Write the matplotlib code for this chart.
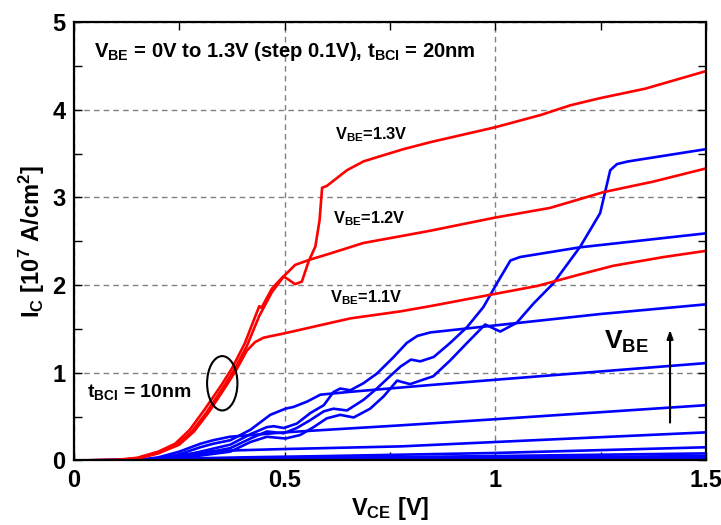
import matplotlib
matplotlib.use("Agg")
import matplotlib.pyplot as plt
from matplotlib.patches import Ellipse
from matplotlib.ticker import MultipleLocator

# ---------------- data ----------------
# t_BCI = 10 nm (red)
red_13_x = [0, 0.1, 0.15, 0.2, 0.24, 0.275, 0.31, 0.35, 0.375, 0.405, 0.435, 0.44, 0.445, 0.47, 0.497,
            0.51, 0.525, 0.541, 0.557, 0.573, 0.583, 0.589, 0.60, 0.624, 0.648, 0.687, 0.727, 0.782,
            0.846, 1.0, 1.108, 1.178, 1.247, 1.356, 1.5]
red_13_y = [0, 0.005, 0.03, 0.1, 0.19, 0.35, 0.58, 0.86, 1.05, 1.33, 1.70, 1.76, 1.74, 1.96, 2.10,
            2.06, 2.01, 2.04, 2.27, 2.44, 2.74, 3.11, 3.13, 3.22, 3.31, 3.41, 3.47, 3.55,
            3.63, 3.80, 3.94, 4.05, 4.13, 4.24, 4.44]
red_12_x = [0, 0.1, 0.15, 0.2, 0.245, 0.28, 0.315, 0.355, 0.38, 0.41, 0.44, 0.47, 0.5, 0.525, 0.56,
            0.608, 0.687, 0.767, 0.846, 1.0, 1.13, 1.257, 1.375, 1.5]
red_12_y = [0, 0.004, 0.025, 0.09, 0.18, 0.33, 0.55, 0.84, 1.03, 1.30, 1.65, 1.92, 2.11, 2.23, 2.29,
            2.36, 2.48, 2.55, 2.62, 2.77, 2.88, 3.06, 3.18, 3.33]
red_11_x = [0, 0.1, 0.15, 0.2, 0.25, 0.285, 0.32, 0.36, 0.385, 0.41, 0.43, 0.45, 0.5, 0.656, 0.775,
            0.846, 1.0, 1.1, 1.2, 1.28, 1.4, 1.5]
red_11_y = [0, 0.004, 0.02, 0.08, 0.18, 0.33, 0.55, 0.84, 1.03, 1.25, 1.35, 1.40, 1.45, 1.62, 1.70,
            1.76, 1.90, 1.99, 2.12, 2.22, 2.32, 2.39]

# t_BCI = 20 nm (blue), V_BE = 0 ... 1.3 V
blue_13_x = [0, 0.15, 0.2, 0.25, 0.3, 0.371, 0.419, 0.458, 0.502, 0.537, 0.569, 0.60, 0.632, 0.664,
             0.703, 0.735, 0.767, 0.798, 0.822, 0.853, 0.893, 0.933, 0.976, 1.012, 1.051, 1.091,
             1.138, 1.202, 1.249, 1.273, 1.289, 1.315, 1.5]
blue_13_y = [0, 0.003, 0.008, 0.025, 0.055, 0.10, 0.21, 0.27, 0.25, 0.29, 0.38, 0.48, 0.52, 0.49,
             0.59, 0.73, 0.91, 0.87, 0.91, 0.96, 1.14, 1.34, 1.55, 1.47, 1.57, 1.79,
             2.02, 2.44, 2.82, 3.31, 3.38, 3.41, 3.55]
blue_12_x = [0, 0.15, 0.2, 0.25, 0.3, 0.371, 0.419, 0.458, 0.498, 0.529, 0.561, 0.593, 0.616, 0.648,
             0.687, 0.719, 0.75, 0.775, 0.80, 0.822, 0.854, 0.893, 0.933, 0.972, 1.004, 1.036,
             1.059, 1.2, 1.5]
blue_12_y = [0, 0.003, 0.01, 0.035, 0.075, 0.14, 0.25, 0.33, 0.31, 0.37, 0.46, 0.56, 0.59, 0.57,
             0.69, 0.82, 0.96, 1.07, 1.15, 1.13, 1.18, 1.34, 1.52, 1.75, 2.02, 2.28,
             2.32, 2.43, 2.59]
blue_11_x = [0, 0.15, 0.2, 0.25, 0.3, 0.371, 0.419, 0.458, 0.474, 0.498, 0.529, 0.561, 0.593, 0.616,
             0.632, 0.656, 0.687, 0.719, 0.759, 0.79, 0.815, 0.846, 1.0, 1.25, 1.5]
blue_11_y = [0, 0.004, 0.012, 0.045, 0.10, 0.18, 0.30, 0.38, 0.39, 0.37, 0.42, 0.54, 0.63, 0.78,
             0.82, 0.80, 0.88, 0.99, 1.18, 1.34, 1.42, 1.46, 1.54, 1.67, 1.78]
blue_10_x = [0, 0.15, 0.2, 0.25, 0.3, 0.33, 0.371, 0.419, 0.466, 0.502, 0.521, 0.553, 0.585, 0.65,
             0.846, 1.0, 1.5]
blue_10_y = [0, 0.005, 0.02, 0.07, 0.15, 0.19, 0.23, 0.35, 0.52, 0.59, 0.61, 0.67, 0.75, 0.78,
             0.86, 0.92, 1.11]
blue_09_x = [0, 0.15, 0.2, 0.25, 0.3, 0.33, 0.37, 0.5, 0.775, 1.0, 1.5]
blue_09_y = [0, 0.005, 0.035, 0.10, 0.19, 0.23, 0.27, 0.32, 0.40, 0.47, 0.63]
blue_08_x = [0, 0.15, 0.2, 0.25, 0.3, 0.35, 0.5, 0.775, 1.0, 1.5]
blue_08_y = [0, 0.004, 0.02, 0.06, 0.09, 0.11, 0.13, 0.16, 0.21, 0.32]
blue_07_x = [0, 0.2, 0.3, 0.4, 0.6, 1.0, 1.5]
blue_07_y = [0, 0.005, 0.025, 0.035, 0.05, 0.085, 0.15]
blue_06_x = [0, 0.2, 0.3, 0.5, 1.0, 1.5]
blue_06_y = [0, 0.003, 0.012, 0.025, 0.05, 0.08]
blue_low_x = [0, 0.3, 1.5]
blue_05_y = [0, 0.008, 0.05]
blue_04_y = [0, 0.006, 0.032]
blue_03_y = [0, 0.004, 0.02]
blue_02_y = [0, 0.003, 0.012]
blue_01_y = [0, 0.002, 0.006]
blue_00_y = [0, 0.001, 0.003]

x_ticks = [0, 0.5, 1, 1.5]
x_tick_labels = ["0", "0.5", "1", "1.5"]
y_ticks = [0, 1, 2, 3, 4, 5]
y_tick_labels = ["0", "1", "2", "3", "4", "5"]

# ---------------- style ----------------
FONT = "Liberation Sans"
plt.rcParams["font.family"] = [FONT, "DejaVu Sans"]
plt.rcParams["font.weight"] = "bold"
plt.rcParams["mathtext.fontset"] = "custom"
plt.rcParams["mathtext.rm"] = FONT + ":bold"
plt.rcParams["mathtext.bf"] = FONT + ":bold"
plt.rcParams["mathtext.it"] = FONT + ":bold"
plt.rcParams["mathtext.sf"] = FONT + ":bold"

fig = plt.figure(figsize=(7.21, 5.25), dpi=100)
ax = fig.add_axes([0.1026, 0.123, 0.8764, 0.835])

RED = "#ff0000"
BLUE = "#0000ff"
LW = 1.9

blue_curves = [
    (blue_low_x, blue_00_y), (blue_low_x, blue_01_y), (blue_low_x, blue_02_y),
    (blue_low_x, blue_03_y), (blue_low_x, blue_04_y), (blue_low_x, blue_05_y),
    (blue_06_x, blue_06_y), (blue_07_x, blue_07_y), (blue_08_x, blue_08_y),
    (blue_09_x, blue_09_y), (blue_10_x, blue_10_y), (blue_11_x, blue_11_y),
    (blue_12_x, blue_12_y), (blue_13_x, blue_13_y),
]
for bx, by in blue_curves:
    ax.plot(bx, by, color=BLUE, lw=LW, solid_joinstyle="round")

for rx, ry in [(red_11_x, red_11_y), (red_12_x, red_12_y), (red_13_x, red_13_y)]:
    ax.plot(rx, ry, color=RED, lw=LW, solid_joinstyle="round")

ax.set_xlim(0, 1.5)
ax.set_ylim(0, 5)
ax.set_xticks(x_ticks)
ax.set_xticklabels(x_tick_labels)
ax.set_yticks(y_ticks)
ax.set_yticklabels(y_tick_labels)
ax.xaxis.set_minor_locator(MultipleLocator(0.25))
ax.yaxis.set_minor_locator(MultipleLocator(0.5))
ax.tick_params(which="both", direction="in", top=True, right=True, length=6, width=1.0)
ax.tick_params(which="major", labelsize=17, pad=6)
for lab in ax.get_xticklabels() + ax.get_yticklabels():
    lab.set_fontweight("bold")

ax.grid(True, which="major", color="#808080", linestyle=(0, (4, 3)), lw=1.0)
for s in ax.spines.values():
    s.set_linewidth(1.6)

ax.set_xlabel(r"V$_{\rm CE}$ [V]", fontsize=17, fontweight="bold", labelpad=2)
ax.set_ylabel(r"I$_{\rm C}$ [10$^{\rm 7}$ A/cm$^{\rm 2}$]", fontsize=17, fontweight="bold", labelpad=4)

# annotations
ax.text(0.048, 4.66, r"V$_{\rm BE}$ = 0V to 1.3V (step 0.1V), t$_{\rm BCI}$ = 20nm",
        fontsize=14.6, fontweight="bold", va="center", ha="left")
ax.text(0.62, 3.72, r"V$_{\rm BE}$=1.3V", fontsize=11.8, fontweight="bold", va="center")
ax.text(0.616, 2.76, r"V$_{\rm BE}$=1.2V", fontsize=11.8, fontweight="bold", va="center")
ax.text(0.608, 1.86, r"V$_{\rm BE}$=1.1V", fontsize=11.8, fontweight="bold", va="center")
ax.text(0.032, 0.78, r"t$_{\rm BCI}$ = 10nm", fontsize=14, fontweight="bold", va="center")
ax.text(1.258, 1.35, r"V$_{\rm BE}$", fontsize=19, fontweight="bold", va="center")
ax.annotate("", xy=(1.415, 1.52), xytext=(1.415, 0.40),
            arrowprops=dict(arrowstyle="-|>,head_length=0.5,head_width=0.18", lw=1.5, color="black"))
ax.add_patch(Ellipse((0.352, 0.88), 0.072, 0.62, fill=False, lw=1.5, ec="black", zorder=5))

fig.savefig("out.png", dpi=100)
